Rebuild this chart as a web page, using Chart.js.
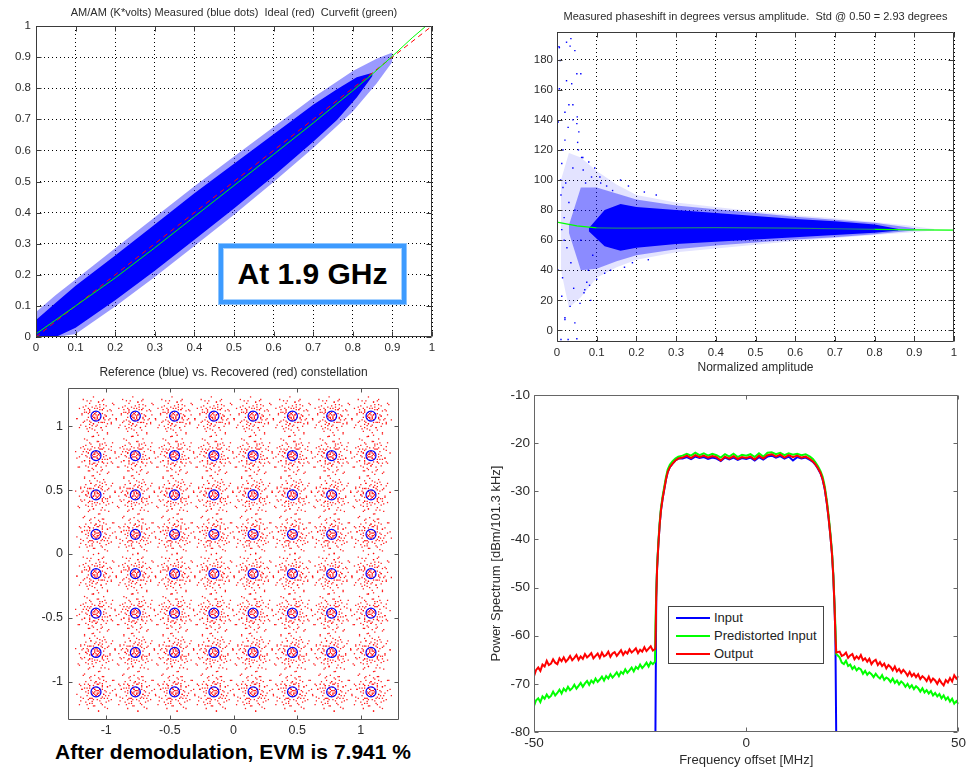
<!DOCTYPE html>
<html>
<head>
<meta charset="utf-8">
<script src="https://cdn.jsdelivr.net/npm/chart.js@4.4.1/dist/chart.umd.min.js"></script>
<style>
  body { margin: 0; background: #fff; width: 969px; height: 769px; position: relative; overflow: hidden;
         font-family: "Liberation Sans", Arial, sans-serif; }
  .pane { position: absolute; }
  .pane canvas { display: block; }
  #freqTag { position: absolute; left: 218px; top: 243px; width: 189px; height: 62px; box-sizing: border-box;
             border: 1px solid #8ec5ff; background: #3d9bff; padding: 4px; }
  #freqTag div { width: 100%; height: 100%; box-sizing: border-box; border: 1px solid #a9d3ff; background: #fff;
                 display: flex; align-items: center; justify-content: center; font-weight: bold; font-size: 30px; color: #000; }
  #evm { position: absolute; left: 0; top: 740px; width: 466px; line-height: 24px; text-align: center;
         font-weight: bold; font-size: 21px; color: #000; }
  #specLegend { position: absolute; left: 668px; top: 606px; width: 156px; height: 58px; box-sizing: border-box;
                border: 1px solid #444; background: #fff; font-size: 13px; color: #222; }
  #specLegend .row { position: absolute; left: 0; height: 16px; line-height: 16px; width: 100%; }
  #specLegend .swatch { position: absolute; left: 7px; top: 7px; width: 34px; height: 2px; }
  #specLegend .label { position: absolute; left: 45px; top: 0; white-space: nowrap; }
</style>
</head>
<body>
<div class="pane" style="left:0;top:0"><canvas id="amam" width="470" height="360"></canvas></div>
<div class="pane" style="left:490px;top:0"><canvas id="ampm" width="479" height="375"></canvas></div>
<div class="pane" style="left:0;top:360px"><canvas id="qam" width="480" height="380"></canvas></div>
<div class="pane" style="left:480px;top:370px"><canvas id="spectrum" width="489" height="399"></canvas></div>

<div id="freqTag"><div>At 1.9 GHz</div></div>
<div id="evm">After demodulation, EVM is 7.941 %</div>
<div id="specLegend">
  <div class="row" style="top:3px"><span class="swatch" style="background:#0000ff"></span><span class="label">Input</span></div>
  <div class="row" style="top:21px"><span class="swatch" style="background:#00ff00"></span><span class="label">Predistorted Input</span></div>
  <div class="row" style="top:39px"><span class="swatch" style="background:#ff0000"></span><span class="label">Output</span></div>
</div>

<script>
const FONT = '"Liberation Sans", Arial, sans-serif';
const INK = '#2b2b2b';

// ---- AM/AM: measured cloud (edges), ideal and curvefit ----
const amCoreX  = [0, 0.05, 0.1, 0.2, 0.3, 0.4, 0.5, 0.6, 0.7, 0.76, 0.81, 0.85];
const amCoreHi = [0.055, 0.11, 0.165, 0.262, 0.362, 0.462, 0.557, 0.652, 0.747, 0.797, 0.835, 0.85];
const amCoreLo = [0.0, 0.0, 0.03, 0.118, 0.213, 0.313, 0.413, 0.518, 0.628, 0.698, 0.77, 0.84];
const amHaloX  = [0, 0.05, 0.1, 0.2, 0.3, 0.4, 0.5, 0.6, 0.7, 0.8, 0.86, 0.9];
const amHaloHi = [0.08, 0.135, 0.185, 0.285, 0.385, 0.485, 0.58, 0.675, 0.77, 0.855, 0.895, 0.915];
const amHaloLo = [0.0, 0.0, 0.01, 0.098, 0.193, 0.293, 0.393, 0.498, 0.608, 0.725, 0.815, 0.885];
const idealX = [0, 1];
const idealY = [0, 1];
const fitX = [0, 0.1, 0.2, 0.3, 0.4, 0.5, 0.6, 0.7, 0.8, 0.85, 0.9, 0.95, 0.985];
const fitY = [0.01, 0.1, 0.19, 0.287, 0.387, 0.487, 0.587, 0.688, 0.792, 0.846, 0.903, 0.962, 1.0];

// ---- AM/PM: phase cloud bands, scattered points, fit ----
const phOuterX  = [0.01, 0.03, 0.06, 0.1, 0.15, 0.2, 0.3, 0.4, 0.5, 0.6, 0.7, 0.8, 0.88, 0.95];
const phOuterHi = [100, 118, 115, 106, 97, 90, 85, 82, 79, 76.5, 74.5, 72, 70, 67.5];
const phOuterLo = [40, 15, 22, 35, 42, 47, 52, 54.5, 57, 59.5, 61.5, 63.5, 65, 66.5];
const phMidX  = [0.03, 0.06, 0.1, 0.15, 0.2, 0.3, 0.4, 0.5, 0.6, 0.7, 0.8, 0.9];
const phMidHi = [70, 95, 95, 91, 87, 83, 80.5, 78, 75.5, 73.5, 71.5, 68];
const phMidLo = [65, 40, 41, 46, 50, 54, 56.5, 58.5, 60.5, 62, 64, 66.5];
const phCoreX  = [0.08, 0.12, 0.16, 0.2, 0.3, 0.4, 0.5, 0.6, 0.7, 0.8, 0.86];
const phCoreHi = [68, 80, 84, 82, 80, 78, 76, 74, 72.5, 70.5, 67.5];
const phCoreLo = [66, 56, 53, 55, 57.5, 59, 60.5, 62, 63.5, 65, 66.5];
const phOutX = [0.005, 0.024, 0.033, 0.045, 0.035, 0.006, 0.008, 0.005, 0.024, 0.037,
                0.05, 0.06, 0.006, 0.003, 0.028, 0.05, 0.051, 0.02, 0.054, 0.012,
                0.066, 0.087, 0.108, 0.012, 0.033, 0.02, 0.045, 0.028, 0.07, 0.079,
                0.003, 0.012, 0.02, 0.01, 0.05, 0.04, 0.015, 0.062, 0.075, 0.09,
                0.015, 0.022, 0.03, 0.018, 0.04, 0.052, 0.025, 0.035, 0.014, 0.042,
                0.058, 0.065, 0.072, 0.08, 0.095, 0.11, 0.125, 0.14, 0.082, 0.1,
                0.12, 0.135, 0.06, 0.009, 0.03, 0.04, 0.055, 0.02, 0.068, 0.085,
                0.16, 0.18, 0.17, 0.19, 0.22, 0.25, 0.23, 0.045, 0.01, 0.018];
const phOutY = [188.7, 191.6, 189, 186, 194, 188, 179.5, 159.6, 166, 164,
                170.6, 170.6, 160.7, 138.6, 135, 137.5, 142, 126.5, 120, 111,
                106.6, 102, 102, 22.7, 16, 7.3, 5, -6, 27, 40,
                40, 67, 8.4, -6, -5.5, 150, 95, 115, 32, 50,
                120, 98, 85, 75, 108, 125, 55, 45, 35, 28,
                18, 115, 98, 112, 108, 98, 96, 93, 30, 34,
                38, 40, 60, 100, 150, 140, 132, 145, 25, 20,
                100, 96, 42, 45, 92, 90, 47, 80, 90, 60];
const phFitX = [0, 0.05, 0.1, 0.15, 0.2, 0.3, 0.4, 0.5, 0.6, 0.7, 0.8, 0.9, 1];
const phFitY = [72, 69.5, 68.2, 68, 68, 68.2, 68.3, 68.2, 68, 67.6, 67.2, 66.9, 66.7];

// ---- 64-QAM constellation ----
const qamLevels = [-1.08, -0.771, -0.463, -0.154, 0.154, 0.463, 0.771, 1.08];
const clusterSpread = [
  [0, 0.01], [0.01, -0.01], [-0.01, 0.02], [0.02, 0.01], [-0.02, -0.01], [0.03, 0.02], [-0.03, 0.0], [0.0, -0.03],
  [0.02, -0.03], [-0.02, 0.03], [0.035, -0.01], [-0.01, -0.02],
  [0.05, 0.02], [-0.05, 0.03], [0.04, -0.05], [-0.04, -0.05], [0.01, 0.06], [-0.02, -0.06], [0.06, -0.02], [-0.06, -0.01],
  [0.05, 0.05], [-0.05, 0.05], [0.07, 0.01], [-0.07, -0.03], [0.03, 0.07], [-0.03, -0.075], [0.065, -0.05], [-0.06, 0.06],
  [0.0, 0.08], [0.08, 0.0],
  [0.09, 0.04], [-0.09, 0.03], [0.04, -0.09], [-0.05, -0.09], [0.1, -0.03], [-0.1, -0.05], [0.06, 0.09], [-0.08, 0.08],
  [0.02, 0.11], [-0.01, -0.11], [0.11, 0.05], [-0.11, 0.02], [0.08, -0.08], [-0.07, -0.1], [0.12, -0.06], [-0.12, -0.07],
  [0.05, 0.12], [-0.04, 0.12], [0.13, 0.01], [-0.13, 0.06],
  [0.14, 0.09], [-0.15, -0.02], [0.09, -0.13], [-0.1, 0.13], [0.02, -0.15], [0.16, -0.03]
];

// ---- Power spectrum ----
const freqMHz = [
  -50, -49.5, -49, -48.5, -48, -47.5, -47, -46.5, -46, -45.5, -45, -44.5, -44, -43.5, -43, -42.5, -42, -41.5, -41, -40.5,
  -40, -39.5, -39, -38.5, -38, -37.5, -37, -36.5, -36, -35.5, -35, -34.5, -34, -33.5, -33, -32.5, -32, -31.5, -31, -30.5,
  -30, -29.5, -29, -28.5, -28, -27.5, -27, -26.5, -26, -25.5, -25, -24.5, -24, -23.5, -23, -22.5, -22, -21.5,
  -21.4, -21.2, -21.0, -20.7, -20.4, -20.1, -19.7, -19.3, -18.9, -18.5, -18, -17.4, -16.7, -16,
  -15, -14, -13, -12, -11, -10, -9, -8, -7, -6, -5, -4, -3, -2, -1, 0, 1, 2, 3, 4, 5, 6, 7, 8, 9, 10, 11, 12, 13, 14, 15,
  15.7, 16.3, 16.9, 17.5, 18, 18.5, 19, 19.4, 19.8, 20.2, 20.5, 20.8, 21.0, 21.2,
  22, 22.5, 23, 23.5, 24, 24.5, 25, 25.5, 26, 26.5, 27, 27.5, 28, 28.5, 29, 29.5, 30, 30.5, 31, 31.5,
  32, 32.5, 33, 33.5, 34, 34.5, 35, 35.5, 36, 36.5, 37, 37.5, 38, 38.5, 39, 39.5, 40, 40.5, 41, 41.5,
  42, 42.5, 43, 43.5, 44, 44.5, 45, 45.5, 46, 46.5, 47, 47.5, 48, 48.5, 49, 49.5, 50
];
const outputDb = [
  -68.4, -67.1, -66.6, -67.3, -66.0, -66.4, -65.2, -66.1, -65.8, -64.9, -65.6, -65.9, -64.7, -65.3, -64.5, -65.4, -64.9, -64.2, -65.1, -64.6,
  -64.0, -65.0, -64.3, -64.8, -63.8, -64.5, -64.1, -63.6, -64.7, -64.2, -63.7, -64.6, -63.5, -64.3, -64.0, -63.3, -64.4, -63.7, -63.4, -64.2,
  -63.6, -63.0, -64.0, -63.3, -63.7, -62.8, -63.5, -63.1, -62.6, -63.6, -62.9, -63.3, -62.4, -63.2, -62.7, -62.2, -63.1, -62.8,
  -62.5, -52, -46, -41, -37, -34, -31.5, -29.5, -27.5, -26, -25, -24.3, -23.6, -23.2,
  -23.0, -22.6, -23.1, -22.5, -22.9, -22.6, -23.0, -22.7, -22.9, -23.6, -22.8, -23.2, -22.7, -23.3, -22.9, -23.1,
  -22.8, -23.4, -22.6, -23.2, -22.5, -22.3, -22.8, -22.4, -23.0, -22.5, -22.9, -22.6, -23.0, -22.8, -23.3,
  -23.8, -24.4, -25.2, -26.2, -27.5, -29.5, -32.5, -35.5, -39, -43, -47.5, -54, -60, -63.5,
  -63.3, -64.2, -64.0, -63.5, -64.6, -64.1, -63.8, -64.9, -64.3, -64.8, -64.0, -65.1, -64.7, -65.4, -64.8, -65.9, -65.3, -65.0, -66.1, -65.5,
  -66.3, -65.8, -66.8, -66.1, -66.5, -67.2, -66.4, -67.4, -66.9, -67.7, -67.1, -67.6, -68.3, -67.5, -68.4, -67.9, -68.6, -68.0, -69.0, -68.4,
  -68.8, -69.4, -68.5, -69.6, -68.9, -69.3, -70.0, -69.1, -69.8, -70.3, -69.2, -69.7, -68.8, -69.5, -68.2, -68.9, -68.4
];
const predistortedDb = [
  -74.6, -73.4, -73.0, -73.8, -72.6, -73.1, -72.2, -72.9, -72.5, -71.6, -72.4, -71.9, -71.2, -72.0, -71.0, -71.5, -70.6, -71.3, -70.9, -70.2,
  -71.0, -70.4, -69.8, -70.6, -69.9, -69.4, -70.2, -69.3, -69.8, -68.9, -69.6, -69.1, -68.5, -69.3, -68.4, -68.9, -68.0, -68.7, -68.2, -67.6,
  -68.4, -67.5, -67.9, -67.0, -67.7, -67.2, -66.6, -67.4, -66.5, -66.9, -66.0, -66.7, -66.2, -65.6, -66.4, -65.5, -65.9, -65.4,
  -58, -51, -45.5, -40.5, -36.5, -33.5, -31, -29, -27, -25.5, -24.5, -23.8, -23.2, -22.8,
  -22.6, -22.2, -22.6, -22.0, -22.5, -22.1, -22.6, -22.2, -22.5, -23.0, -22.3, -22.8, -22.2, -22.9, -22.4, -22.6,
  -22.3, -22.9, -22.1, -22.8, -22.0, -21.9, -22.3, -22.0, -22.5, -22.1, -22.4, -22.2, -22.5, -22.3, -22.8,
  -23.3, -24.0, -24.8, -25.8, -27.0, -29.0, -32.0, -35.0, -38.5, -42.5, -47, -53.5, -58, -63.8,
  -64.5, -65.6, -65.9, -65.2, -66.3, -66.0, -66.9, -66.4, -67.2, -66.7, -67.0, -67.9, -67.3, -68.1, -67.6, -68.0, -68.6, -67.9, -68.5, -68.9,
  -68.2, -69.2, -68.7, -69.0, -69.6, -68.9, -69.8, -69.3, -70.1, -69.5, -69.9, -70.6, -70.0, -70.8, -70.3, -71.1, -70.5, -70.9, -71.6, -70.9,
  -71.8, -71.3, -72.0, -71.5, -72.4, -71.9, -72.6, -72.1, -73.0, -72.4, -73.3, -72.8, -73.7, -73.1, -74.1, -73.6, -74.2
];
// the input only exists inside the channel: freqMHz[58] (-21.4) .. freqMHz[116] (21.2)
const inputFreqMHz = freqMHz.slice(58, 117);
const inputDb = [
  -81, -52, -46, -41, -37, -34, -31.5, -29.5, -27.5, -26, -25, -24.3, -23.6, -23.2,
  -23.2, -22.9, -23.3, -22.8, -23.1, -22.9, -23.3, -23.0, -23.2, -23.7, -23.0, -23.4, -23.0, -23.5, -23.1, -23.3,
  -23.0, -23.6, -22.9, -23.4, -22.8, -22.6, -23.0, -22.7, -23.2, -22.8, -23.6, -22.9, -23.2, -23.0, -23.5,
  -23.9, -24.5, -25.3, -26.3, -27.6, -29.6, -32.6, -35.6, -39, -43, -47.5, -54, -60, -81
];

Chart.defaults.font.family = FONT;
Chart.defaults.color = INK;
Chart.defaults.animation = false;

// MATLAB-like box with inward ticks on all four sides
const matlabFrame = {
  id: 'matlabFrame',
  afterDraw(chart, args, opts) {
    const {ctx, chartArea: a} = chart;
    const sx = chart.scales.x, sy = chart.scales.y;
    const len = opts.tick || 5;
    const l = Math.round(a.left) + 0.5, r = Math.round(a.right) - 0.5;
    const t = Math.round(a.top) + 0.5, b = Math.round(a.bottom) - 0.5;
    ctx.save();
    ctx.strokeStyle = opts.color || '#444';
    ctx.lineWidth = 1;
    ctx.beginPath();
    sx.ticks.forEach(tk => {
      const p = Math.round(sx.getPixelForValue(tk.value)) + 0.5;
      ctx.moveTo(p, b); ctx.lineTo(p, b - len);
      ctx.moveTo(p, t); ctx.lineTo(p, t + len);
    });
    sy.ticks.forEach(tk => {
      const p = Math.round(sy.getPixelForValue(tk.value)) + 0.5;
      ctx.moveTo(l, p); ctx.lineTo(l + len, p);
      ctx.moveTo(r, p); ctx.lineTo(r - len, p);
    });
    ctx.rect(l, t, r - l, b - t);
    ctx.stroke();
    ctx.restore();
  }
};

function axis(min, max, step, o) {
  return {
    type: 'linear', min: min, max: max,
    ticks: { stepSize: step, includeBounds: false, autoSkip: false, maxRotation: 0,
             font: { size: o.size }, padding: o.pad, color: INK,
             callback: v => String(+v.toFixed(3)) },
    grid: o.grid ? { display: true, color: '#000', lineWidth: 1, drawTicks: false }
                 : { display: false, drawTicks: false },
    border: { display: false, dash: [1, 3] },
    title: o.title || { display: false },
    afterFit: s => { if (s.isHorizontal()) s.height = o.fit; else s.width = o.fit; }
  };
}

function titleOpts(text, size, top, bottom) {
  return { display: true, text: text, fullSize: false, color: INK,
           font: { size: size, weight: 'normal' }, padding: { top: top, bottom: bottom } };
}

const pts = (xs, ys) => xs.map((x, i) => ({ x: x, y: ys[i] }));

function band(xs, ys, color, order, fill) {
  return { data: pts(xs, ys), borderWidth: 0, borderColor: 'transparent', pointRadius: 0,
           backgroundColor: color, fill: fill, order: order };
}

function baseOptions(extra) {
  return {
    responsive: false, animation: false, events: [],
    layout: extra.layout,
    scales: extra.scales,
    plugins: {
      legend: { display: false },
      tooltip: { enabled: false },
      title: extra.title || { display: false },
      matlabFrame: extra.frame
    }
  };
}

// top left: AM/AM
new Chart(document.getElementById('amam'), {
  type: 'line',
  data: {
    datasets: [
      band(amHaloX, amHaloHi, 'rgba(30,30,255,0.45)', 4, '+1'),
      band(amHaloX, amHaloLo, 'transparent', 4, false),
      band(amCoreX, amCoreHi, '#0000ff', 3, '+1'),
      band(amCoreX, amCoreLo, 'transparent', 3, false),
      { data: pts(idealX, idealY), borderColor: '#ff0000', borderWidth: 1, borderDash: [5, 4], pointRadius: 0, order: 1 },
      { data: pts(fitX, fitY), borderColor: '#00ff00', borderWidth: 1, pointRadius: 0, order: 0 }
    ]
  },
  options: baseOptions({
    layout: { padding: { left: 0, right: 38, top: 0, bottom: 0 } },
    title: titleOpts('AM/AM (K*volts) Measured (blue dots)  Ideal (red)  Curvefit (green)', 11, 6, 6.8),
    scales: {
      x: axis(0, 1, 0.1, { size: 11.5, pad: 4, fit: 23, grid: true }),
      y: axis(0, 1, 0.1, { size: 11.5, pad: 5, fit: 36, grid: true })
    },
    frame: { color: '#3a3a3a', tick: 5 }
  }),
  plugins: [matlabFrame]
});

// top right: phase vs amplitude
new Chart(document.getElementById('ampm'), {
  type: 'line',
  data: {
    datasets: [
      band(phOuterX, phOuterHi, 'rgba(40,40,255,0.13)', 6, '+1'),
      band(phOuterX, phOuterLo, 'transparent', 6, false),
      band(phMidX, phMidHi, 'rgba(20,20,255,0.42)', 5, '+1'),
      band(phMidX, phMidLo, 'transparent', 5, false),
      band(phCoreX, phCoreHi, '#0000ff', 4, '+1'),
      band(phCoreX, phCoreLo, 'transparent', 4, false),
      { data: pts(phOutX, phOutY), showLine: false, pointStyle: 'rect', pointRadius: 1,
        pointBorderWidth: 0, pointBackgroundColor: '#0000ff', order: 1 },
      { data: pts(phFitX, phFitY), borderWidth: 1.2, pointRadius: 0, order: 0, borderColor: '#00ff00',
        segment: { borderColor: c => (c.p0.parsed.x >= 0.08 && c.p1.parsed.x <= 0.82) ? '#1c7f80' : '#00ff00' } }
    ]
  },
  options: baseOptions({
    layout: { padding: { left: 0, right: 15, top: 0, bottom: 0 } },
    title: titleOpts('Measured phaseshift in degrees versus amplitude.  Std @ 0.50 = 2.93 degrees', 11, 10, 8.8),
    scales: {
      x: axis(0, 1, 0.1, { size: 11.5, pad: 4, fit: 33, grid: true,
        title: { display: true, text: 'Normalized amplitude', color: INK, font: { size: 12 }, padding: 0 } }),
      y: axis(-7.7, 198.4, 20, { size: 11.5, pad: 4, fit: 67, grid: true })
    },
    frame: { color: '#3a3a3a', tick: 5 }
  }),
  plugins: [matlabFrame]
});

// bottom left: constellation
const reference = [];
const recovered = [];
qamLevels.forEach((re, i) => qamLevels.forEach((im, j) => {
  reference.push({ x: re, y: im });
  const k = i * 8 + j;
  [k % 4, (k + 1) % 4].forEach(turn => clusterSpread.forEach(([dx, dy]) => {
    const [u, v] = [[dx, dy], [-dy, dx], [-dx, -dy], [dy, -dx]][turn];
    recovered.push({ x: re + u, y: im + v });
  }));
}));

new Chart(document.getElementById('qam'), {
  type: 'line',
  data: {
    datasets: [
      { data: recovered, showLine: false, pointStyle: 'rect', pointRadius: 0.9, pointBorderWidth: 0,
        pointBackgroundColor: 'rgba(255,0,0,0.9)', order: 1 },
      { data: reference, showLine: false, pointStyle: 'circle', pointRadius: 5, pointBorderWidth: 1.2,
        pointBorderColor: '#0000ff', pointBackgroundColor: 'transparent', order: 0 }
    ]
  },
  options: baseOptions({
    layout: { padding: { left: 0, right: 81, top: 0, bottom: 0 } },
    title: titleOpts('Reference (blue) vs. Recovered (red) constellation', 12, 5.8, 7.8),
    scales: {
      x: axis(-1.3, 1.3, 0.5, { size: 12.5, pad: 3, fit: 20 }),
      y: axis(-1.3, 1.3, 0.5, { size: 12.5, pad: 5, fit: 68 })
    },
    frame: { color: '#555', tick: 4 }
  }),
  plugins: [matlabFrame]
});

// bottom right: power spectrum
new Chart(document.getElementById('spectrum'), {
  type: 'line',
  data: {
    datasets: [
      { label: 'Input', data: pts(inputFreqMHz, inputDb), borderColor: '#0000ff', borderWidth: 2, pointRadius: 0, order: 2 },
      { label: 'Predistorted Input', data: pts(freqMHz, predistortedDb), borderColor: '#00ff00', borderWidth: 2, pointRadius: 0, order: 1 },
      { label: 'Output', data: pts(freqMHz, outputDb), borderColor: '#ff0000', borderWidth: 2, pointRadius: 0, order: 0 }
    ]
  },
  options: baseOptions({
    layout: { padding: { left: 0, right: 7, top: 25, bottom: 0 } },
    scales: {
      x: axis(-50, 50, 50, { size: 13.5, pad: 3, fit: 37,
        title: { display: true, text: 'Frequency offset [MHz]', color: INK, font: { size: 13 }, padding: { top: 0, bottom: 1.2 } } }),
      y: axis(-80, -10, 10, { size: 13.5, pad: 4, fit: 54,
        title: { display: true, text: 'Power Spectrum [dBm/101.3 kHz]', color: INK, font: { size: 13 }, padding: { top: 9, bottom: 0 } } })
    },
    frame: { color: '#666', tick: 4 }
  }),
  plugins: [matlabFrame]
});
</script>
</body>
</html>
